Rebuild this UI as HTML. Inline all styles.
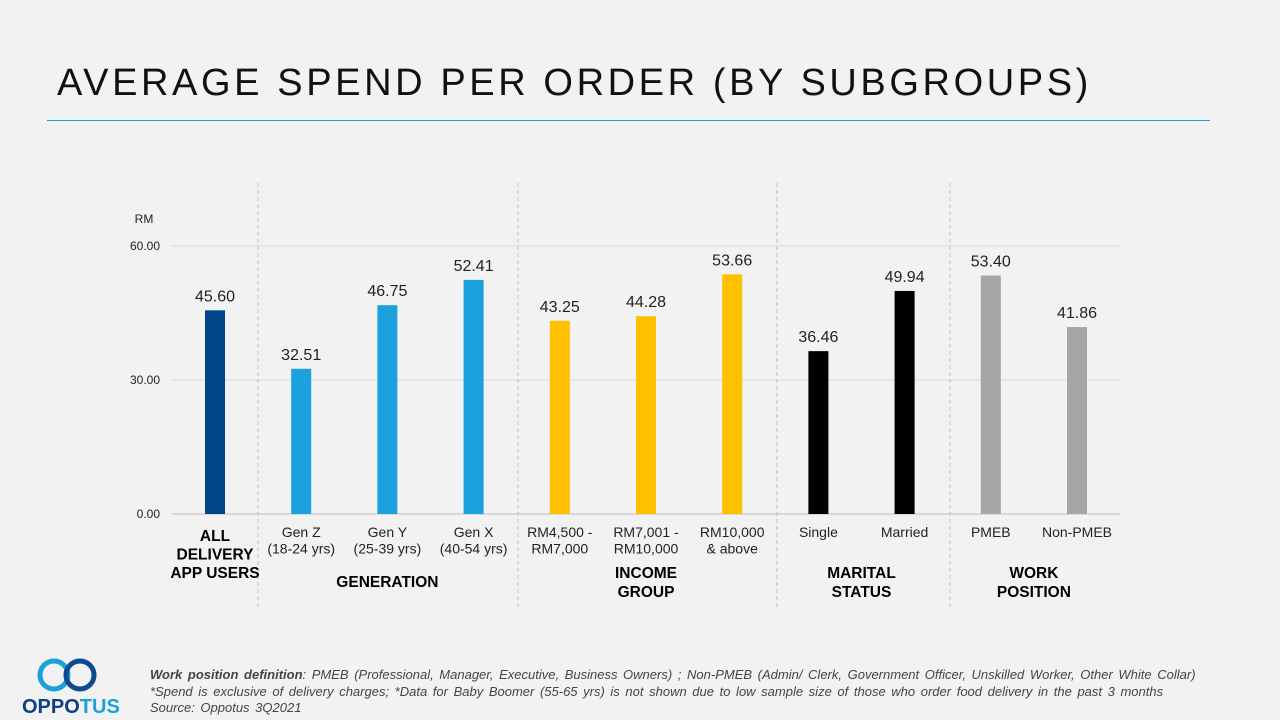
<!DOCTYPE html>
<html><head><meta charset="utf-8"><style>
body{margin:0;background:#f2f2f2;font-family:"Liberation Sans",Arial,sans-serif;}
#wrap{position:relative;width:1280px;height:720px;overflow:hidden;background:#f2f2f2}
#title{position:absolute;left:57px;top:62px;font-size:38px;letter-spacing:3.6px;color:#111;white-space:nowrap}
#rule{position:absolute;left:47px;top:120px;width:1163px;height:1px;background:#1ba1d8}
#foot{position:absolute;left:150px;top:667px;font-size:13px;word-spacing:2px;font-style:italic;color:#444;line-height:16.5px;white-space:nowrap}
</style></head><body>
<div id="wrap">
<div id="title">AVERAGE SPEND PER ORDER (BY SUBGROUPS)</div>
<div id="rule"></div>
<svg id="chart" width="1280" height="720" style="position:absolute;left:0;top:0"></svg>
<svg width="120" height="70" style="position:absolute;left:10px;top:650px">
<circle cx="44" cy="25" r="14" fill="none" stroke="#1ba1d8" stroke-width="5"/>
<circle cx="70" cy="25" r="14" fill="none" stroke="#0e4a8f" stroke-width="5"/>
<text x="12" y="63" font-size="20" font-weight="bold" fill="#0e3f86" font-family="Liberation Sans, sans-serif">OPPO<tspan fill="#1ba1d8">TUS</tspan></text>
</svg>
<div id="foot"><b>Work position definition</b>: PMEB (Professional, Manager, Executive, Business Owners) ; Non-PMEB (Admin/ Clerk, Government Officer, Unskilled Worker, Other White Collar)<br>*Spend is exclusive of delivery charges; *Data for Baby Boomer (55-65 yrs) is not shown due to low sample size of those who order food delivery in the past 3 months<br>Source: Oppotus 3Q2021</div>
</div>
<script>
const categories=[["ALL","DELIVERY","APP USERS"],["Gen Z","(18-24 yrs)"],["Gen Y","(25-39 yrs)"],["Gen X","(40-54 yrs)"],["RM4,500 -","RM7,000"],["RM7,001 -","RM10,000"],["RM10,000","& above"],["Single"],["Married"],["PMEB"],["Non-PMEB"]];
const values=[45.60,32.51,46.75,52.41,43.25,44.28,53.66,36.46,49.94,53.40,41.86];
const colors=["#004489","#1ba1dd","#1ba1dd","#1ba1dd","#ffc000","#ffc000","#ffc000","#000000","#000000","#a6a6a6","#a6a6a6"];
const ticks=[0,30,60];
const tickLabels=["0.00","30.00","60.00"];
const groups=[{name:["GENERATION"],from:1,to:3},{name:["INCOME","GROUP"],from:4,to:6},{name:["MARITAL","STATUS"],from:7,to:8},{name:["WORK","POSITION"],from:9,to:10}];
const svg=document.getElementById('chart');const NS='http://www.w3.org/2000/svg';
const y0=514,pxPer=134/30,x0=215,step=86.2;
const y=v=>y0-v*pxPer, x=i=>x0+i*step;
function mk(t,a,txt){const e=document.createElementNS(NS,t);for(const k in a)e.setAttribute(k,a[k]);if(txt!=null)e.textContent=txt;svg.appendChild(e);return e;}
ticks.forEach((t,i)=>{
 const g=mk('line',{x1:172,x2:1120,y1:y(t),y2:y(t),stroke:t===0?'#bfbfbf':'#d9d9d9','stroke-width':1});
 
 
 const l=mk('text',{x:160,y:y(t)+4,'text-anchor':'end','font-size':12,fill:'#222'},tickLabels[i]);
 
 
});
const rm=mk('text',{x:144,y:223,'text-anchor':'middle','font-size':12,fill:'#222'},'RM');


[258,518,777,950].forEach(sx=>{
 const d=mk('line',{x1:sx,x2:sx,y1:183,y2:607,stroke:'#bfbfbf','stroke-dasharray':'4,3'});
 
 
});
values.forEach((v,i)=>{
 const b=mk('rect',{x:x(i)-10,y:y(v),width:20,height:y0-y(v),fill:colors[i]});
 
 
 const t=mk('text',{x:x(i),y:y(v)-9,'text-anchor':'middle','font-size':16,fill:'#222'},v.toFixed(2));
 
 
 categories[i].forEach((ln,j)=>{
  let c;
  if(i===0) c=mk('text',{x:x(i),y:541+j*18.5,'text-anchor':'middle','font-size':15.5,'font-weight':'bold',fill:'#000'},ln);
  else c=mk('text',{x:x(i),y:537+j*16.5,'text-anchor':'middle','font-size':14,fill:'#222'},ln);
  
  
 });
});
groups.forEach(g=>{
 const cx=(x(g.from)+x(g.to))/2;const n=g.name.length;
 g.name.forEach((ln,j)=>{
  const t=mk('text',{x:cx,y:(n===1?587:578+j*19),'text-anchor':'middle','font-size':15.5,'font-weight':'bold',fill:'#000'},ln);
  
  
 });
});
</script>
</body></html>
